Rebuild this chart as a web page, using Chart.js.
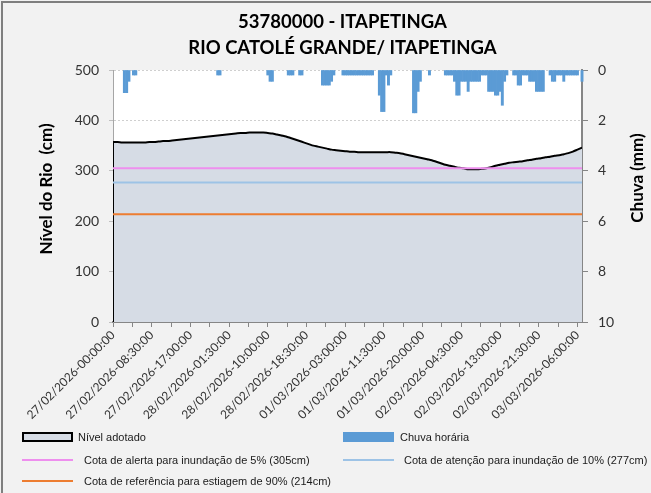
<!DOCTYPE html>
<html>
<head>
<meta charset="utf-8">
<script src="https://cdn.jsdelivr.net/npm/chart.js@4.4.1/dist/chart.umd.min.js"></script>
<style>
  html, body { margin: 0; padding: 0; background: #fff; }
  #wrap { position: absolute; left: 0; top: 0; width: 651px; height: 493px; background: #f2f2f2; overflow: hidden; }
  #frame { position: absolute; left: 1px; top: 1px; width: 680px; height: 520px; border-left: 2px solid #7f7f7f; border-top: 2px solid #7f7f7f; }
  canvas { position: absolute; left: 0; top: 0; }
  .leg { position: absolute; font: 11px "Liberation Sans", Arial, sans-serif; color: #1a1a1a; white-space: nowrap; line-height: 14px; }
  .sw { position: absolute; box-sizing: border-box; }
</style>
</head>
<body>
<div id="wrap">
  <div id="frame"></div>
  <canvas id="chart" width="651" height="493"></canvas>
  <div id="legend"></div>
</div>
<script>
// Nível do rio, leitura horária a partir de 27/02/2026 00:00
const levelCm = [
  357, 357, 356, 356, 356, 356, 356, 356, 357, 357,
  358, 359, 359, 360, 361, 362, 363, 364, 365, 366,
  367, 368, 369, 370, 371, 372, 373, 374, 375, 375,
  376, 376, 376, 376, 375, 374, 372, 370, 368, 365,
  362, 359, 356, 353, 350, 348, 346, 344, 342, 341,
  340, 339, 338, 338, 337, 337, 337, 337, 337, 337,
  337, 337, 336, 335, 333, 331, 329, 327, 325, 323,
  321, 318, 315, 312, 310, 308, 306, 305, 303, 303,
  303, 304, 305, 307, 310, 312, 314, 316, 317, 318,
  319, 321, 322, 324, 325, 327, 328, 330, 331, 333,
  335, 338, 342, 346
];

// Chuva (horas desde o início, mm) - só os registros não nulos
const rainHours = [
  2.5, 3, 3.5, 4.5, 5,
  23, 23.5,
  34, 34.5, 35,
  38.5, 39, 39.5, 41, 41.5,
  46, 46.5, 47, 47.5, 48, 48.5,
  50.5, 51, 51.5, 52, 52.5, 53, 53.5, 54, 54.5, 55, 55.5, 56, 56.5, 57,
  58.5, 59, 59.5, 60, 60.5, 61,
  66, 66.5, 67, 67.5, 69.5,
  73, 73.5, 74, 74.5, 75, 75.5, 76, 76.5, 77, 77.5, 78, 78.5,
  79, 79.5, 80, 80.5, 81, 81.5, 82,
  82.5, 83, 83.5, 84, 84.5, 85, 85.5, 86, 86.5,
  88, 88.5, 89, 89.5, 90, 90.5, 91, 91.5, 92, 92.5, 93, 93.5, 94, 94.5,
  96, 96.5, 97, 97.5, 98, 98.5, 99, 99.5,
  100, 100.5, 101, 101.5, 102, 103
];
const rainMm = [
  0.9, 0.9, 0.45, 0.2, 0.2,
  0.2, 0.2,
  0.2, 0.45, 0.45,
  0.2, 0.2, 0.2, 0.2, 0.2,
  0.6, 0.6, 0.6, 0.6, 0.45, 0.2,
  0.2, 0.2, 0.2, 0.2, 0.2, 0.2, 0.2, 0.2, 0.2, 0.2, 0.2, 0.2, 0.2, 0.2,
  1.0, 1.65, 1.65, 0.2, 0.6, 0.2,
  1.7, 1.7, 0.85, 0.45, 0.2,
  0.2, 0.2, 0.2, 0.2, 0.45, 1.0, 1.0, 0.45, 0.45, 0.45, 0.85, 0.45,
  0.45, 0.45, 0.45, 0.45, 0.2, 0.2, 0.2,
  0.85, 0.85, 0.85, 1.0, 1.0, 0.85, 1.4, 0.45, 0.2,
  0.2, 0.2, 0.6, 0.6, 0.2, 0.2, 0.2, 0.45, 0.45, 0.45, 0.85, 0.85, 0.85, 0.85,
  0.2, 0.45, 0.45, 0.2, 0.2, 0.2, 0.45, 0.2,
  0.2, 0.2, 0.2, 0.2, 0.2, 0.45
];

// cotas de referência (cm)
const limitValues = [305, 277, 214];
const limitNames = [
  'Cota de alerta para inundação de 5% (305cm)',
  'Cota de atenção para inundação de 10% (277cm)',
  'Cota de referência para estiagem de 90% (214cm)'
];
const limitColors = ['#ee8fee', '#9dc3e6', '#ed7d31'];

const titleLines = ['53780000 - ITAPETINGA', 'RIO CATOLÉ GRANDE/ ITAPETINGA'];
const startMs = Date.UTC(2026, 1, 27, 0, 0);
const lastHour = levelCm.length - 1;

function pad(n) { return String(n).padStart(2, '0'); }
function fmtHour(h) {
  const d = new Date(startMs + h * 3600000);
  return pad(d.getUTCDate()) + '/' + pad(d.getUTCMonth() + 1) + '/' + d.getUTCFullYear() +
    '-' + pad(d.getUTCHours()) + ':' + pad(d.getUTCMinutes()) + ':00';
}

const levelPts = levelCm.map((v, i) => ({ x: i, y: v }));
const rainPts = rainHours.map((h, i) => ({ x: h, y: rainMm[i] }));

const datasets = [
  {
    label: 'Chuva horária', type: 'bar', data: rainPts, yAxisID: 'y1',
    backgroundColor: '#5b9bd5', borderWidth: 0,
    barPercentage: 1, categoryPercentage: 1, clip: false, order: 1
  },
  {
    label: 'Nível adotado', type: 'line', data: levelPts, yAxisID: 'y',
    borderColor: '#000', borderWidth: 2, backgroundColor: '#d6dce5',
    fill: 'origin', pointRadius: 0, tension: 0.3, order: 5
  },
  {
    label: 'borda', type: 'line', yAxisID: 'y',
    data: [{ x: 0, y: 0 }, { x: 0, y: levelCm[0] }],
    borderColor: '#000', borderWidth: 2, pointRadius: 0, fill: false, order: 4
  }
];
limitValues.forEach((v, i) => {
  datasets.push({
    label: limitNames[i], type: 'line', yAxisID: 'y',
    data: [{ x: 0, y: v }, { x: lastHour, y: v }],
    borderColor: limitColors[i], borderWidth: 2, pointRadius: 0, fill: false, order: 3
  });
});

const font = 'Lato, "Open Sans", sans-serif';

const decor = {
  id: 'decor',
  beforeDraw(chart) {
    const { ctx, chartArea: a } = chart;
    ctx.save();
    ctx.fillStyle = '#ffffff';
    ctx.fillRect(a.left, a.top, a.right - a.left, a.bottom - a.top);
    ctx.restore();
  },
  afterDraw(chart) {
    const { ctx, chartArea: a } = chart;
    ctx.save();
    ctx.fillStyle = '#000';
    ctx.textAlign = 'center';
    ctx.textBaseline = 'middle';
    ctx.font = 'bold 18.5px ' + font;
    const cx = (a.left + a.right) / 2 - 5;
    ctx.fillText(titleLines[0], cx, 22);
    ctx.fillText(titleLines[1], cx, 48);
    ctx.font = 'bold 17px ' + font;
    ctx.save();
    ctx.translate(47, 189);
    ctx.rotate(-Math.PI / 2);
    ctx.fillText('Nível do Rio  (cm)', 0, 0);
    ctx.restore();
    ctx.translate(638, 178);
    ctx.rotate(-Math.PI / 2);
    ctx.fillText('Chuva (mm)', 0, 0);
    ctx.restore();
  }
};

new Chart(document.getElementById('chart'), {
  data: { datasets },
  options: {
    responsive: false,
    animation: false,
    layout: { padding: { top: 70, bottom: 71, left: 0, right: 0 } },
    plugins: { legend: { display: false }, tooltip: { enabled: false } },
    scales: {
      x: {
        type: 'linear', min: 0, max: lastHour, offset: false,
        ticks: {
          stepSize: 4.25, includeBounds: false, autoSkip: false, minRotation: 45, maxRotation: 45,
          color: '#333', font: { family: font, size: 12 }, padding: 1,
          callback: (v) => (v % 8.5 === 0 ? fmtHour(v) : '')
        },
        grid: { offset: false, drawOnChartArea: false, tickLength: 5, tickColor: '#868686' },
        border: { color: '#868686', width: 2 },
        afterFit(s) { s.height = 100; }
      },
      y: {
        position: 'left', min: 0, max: 500,
        ticks: { stepSize: 100, color: '#333', font: { family: font, size: 14 }, padding: 10 },
        grid: { color: '#cfcfcf', tickLength: 4, tickColor: '#bfbfbf' },
        border: { color: '#a6a6a6', width: 1, dash: [2, 2] },
        afterFit(s) { s.width = 113; }
      },
      y1: {
        position: 'right', min: 0, max: 10, reverse: true,
        ticks: { stepSize: 2, color: '#333', font: { family: font, size: 14 }, padding: 10 },
        grid: { drawOnChartArea: false, tickLength: 6, tickColor: '#868686' },
        border: { color: '#868686', width: 2 },
        afterFit(s) { s.width = 69; }
      }
    }
  },
  plugins: [decor]
});

// legenda em HTML, duas colunas
const legendItems = [
  { text: 'Nível adotado', kind: 'box', fill: '#d6dce5', border: '#000', x: 22, y: 437, tx: 78 },
  { text: 'Chuva horária', kind: 'box', fill: '#5b9bd5', border: null, x: 343, y: 437, tx: 400 },
  { text: limitNames[0], kind: 'line', fill: limitColors[0], x: 22, y: 460, tx: 84 },
  { text: limitNames[1], kind: 'line', fill: limitColors[1], x: 343, y: 460, tx: 404 },
  { text: limitNames[2], kind: 'line', fill: limitColors[2], x: 22, y: 481, tx: 84 }
];
const leg = document.getElementById('legend');
legendItems.forEach((it) => {
  const sw = document.createElement('div');
  sw.className = 'sw';
  sw.style.left = it.x + 'px';
  sw.style.width = '51px';
  if (it.kind === 'box') {
    sw.style.top = (it.y - 5) + 'px';
    sw.style.height = '10px';
    sw.style.background = it.fill;
    if (it.border) sw.style.border = '2px solid ' + it.border;
  } else {
    sw.style.top = (it.y - 1) + 'px';
    sw.style.height = '2px';
    sw.style.background = it.fill;
  }
  leg.appendChild(sw);
  const t = document.createElement('div');
  t.className = 'leg';
  t.style.left = it.tx + 'px';
  t.style.top = (it.y - 7) + 'px';
  t.textContent = it.text;
  leg.appendChild(t);
});
</script>
</body>
</html>
